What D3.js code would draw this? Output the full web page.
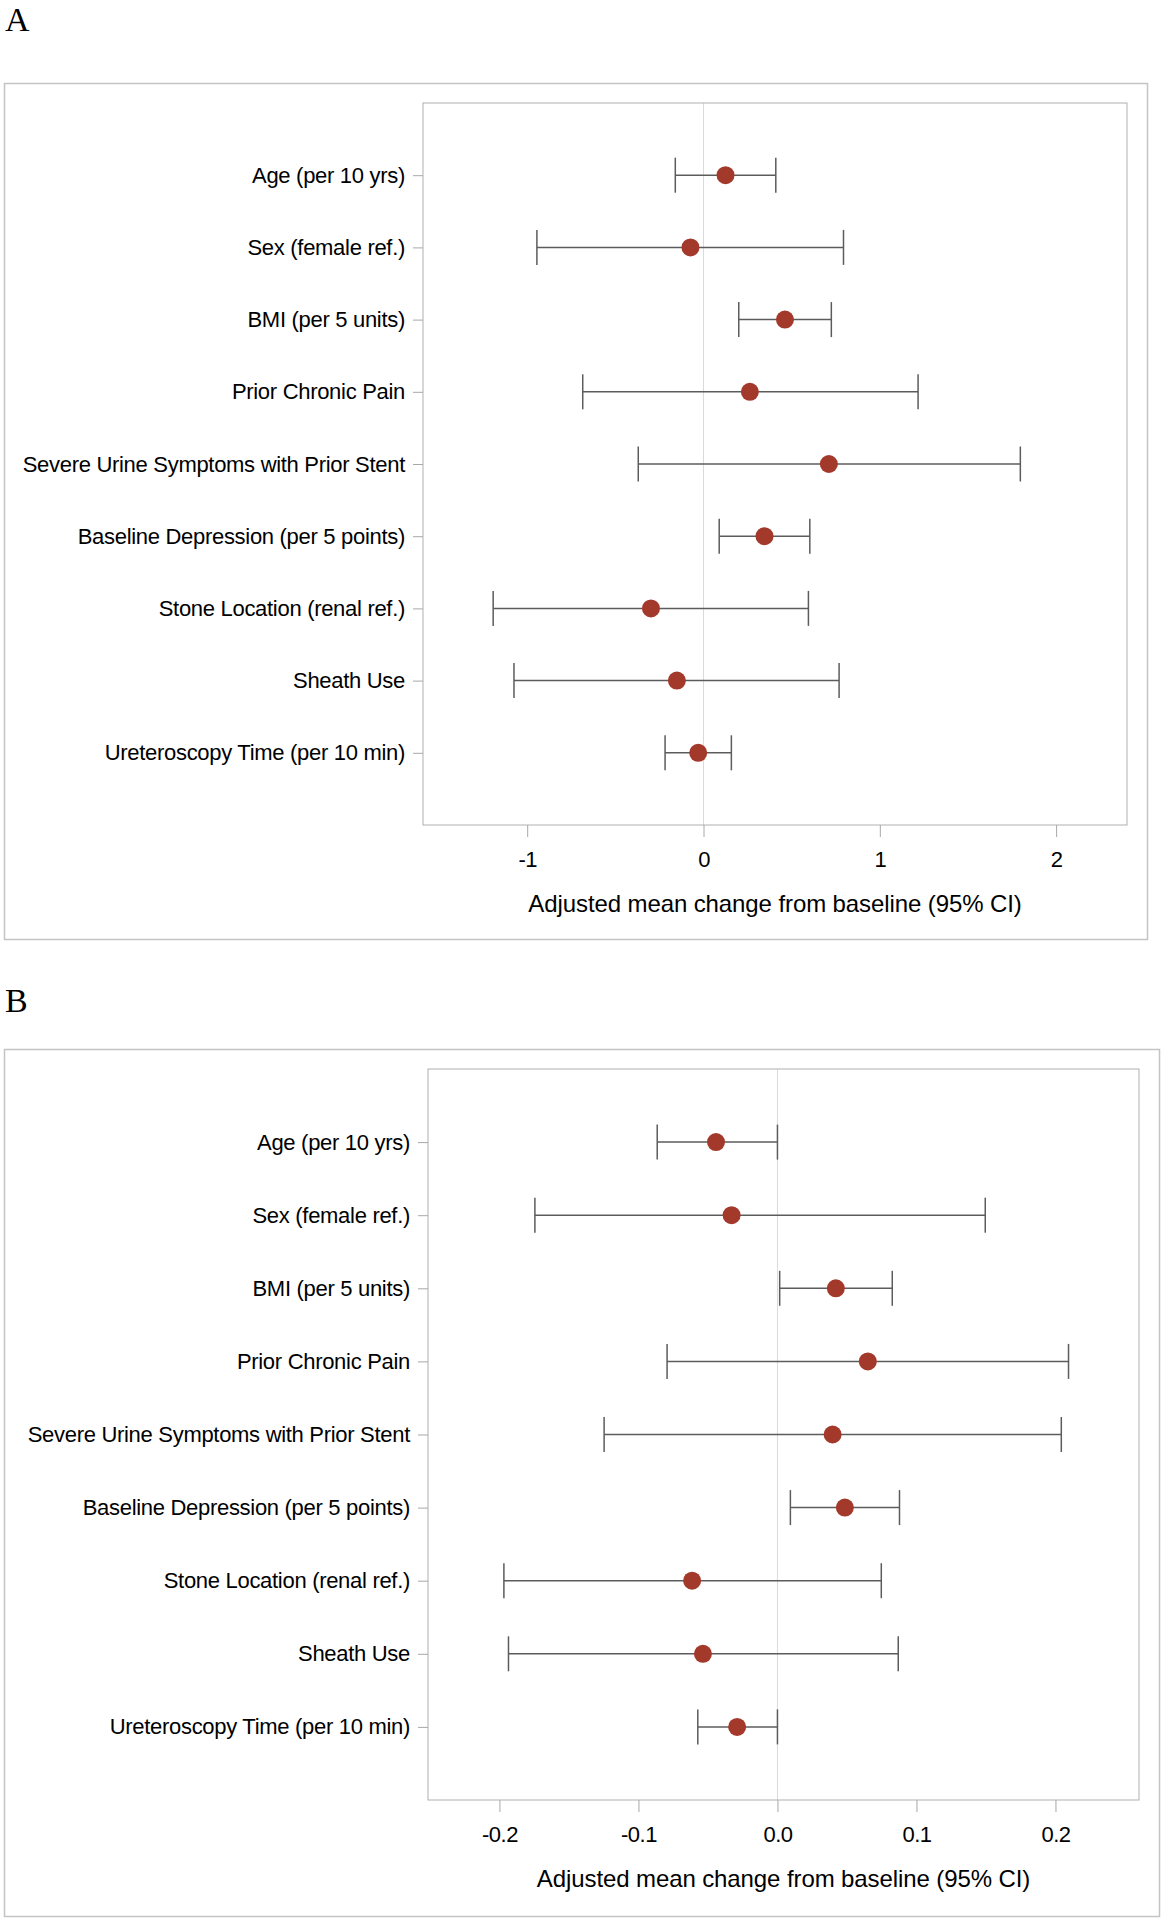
<!DOCTYPE html>
<html>
<head>
<meta charset="utf-8">
<script src="https://cdn.jsdelivr.net/npm/d3@7"></script>
<style>
  html, body { margin: 0; padding: 0; background: #fff; }
  svg { display: block; }
</style>
</head>
<body>
<svg id="chart" width="1164" height="1920"></svg>
<script>
// ---------------- DATA ----------------
const categories = [
  "Age (per 10 yrs)",
  "Sex (female ref.)",
  "BMI (per 5 units)",
  "Prior Chronic Pain",
  "Severe Urine Symptoms with Prior Stent",
  "Baseline Depression (per 5 points)",
  "Stone Location (renal ref.)",
  "Sheath Use",
  "Ureteroscopy Time (per 10 min)"
];

// Panel A
const estimateA = [0.125, -0.074, 0.462, 0.263, 0.711, 0.346, -0.298, -0.151, -0.030];
const lowerA    = [-0.160, -0.945, 0.200, -0.685, -0.370, 0.089, -1.193, -1.075, -0.218];
const upperA    = [0.410, 0.794, 0.725, 1.217, 1.797, 0.603, 0.595, 0.769, 0.158];
const ticksA      = [-1, 0, 1, 2];
const tickLabelsA = ["-1", "0", "1", "2"];

// Panel B
const estimateB = [-0.0442, -0.0330, 0.0420, 0.0650, 0.0397, 0.0485, -0.0614, -0.0536, -0.0290];
const lowerB    = [-0.0865, -0.1745, 0.0016, -0.0794, -0.1247, 0.0093, -0.1968, -0.1935, -0.0573];
const upperB    = [0.0000, 0.1495, 0.0826, 0.2094, 0.2042, 0.0878, 0.0747, 0.0869, 0.0000];
const ticksB      = [-0.2, -0.1, 0.0, 0.1, 0.2];
const tickLabelsB = ["-0.2", "-0.1", "0.0", "0.1", "0.2"];

const panelLetters = ["A", "B"];
const xAxisTitle = "Adjusted mean change from baseline (95% CI)";

// ---------------- LAYOUT ----------------
const panels = [
  {
    letter: panelLetters[0], letterY: 31,
    outer: { x0: 4, y0: 83, x1: 1147, y1: 939 },
    plot:  { x0: 423, y0: 103, x1: 1127, y1: 825 },
    domain: [-1.591, 2.402],
    est: estimateA, lo: lowerA, hi: upperA,
    ticks: ticksA, tickLabels: tickLabelsA
  },
  {
    letter: panelLetters[1], letterY: 1012,
    outer: { x0: 4, y0: 1049, x1: 1159, y1: 1916 },
    plot:  { x0: 428, y0: 1069, x1: 1139, y1: 1800 },
    domain: [-0.2514, 0.2601],
    est: estimateB, lo: lowerB, hi: upperB,
    ticks: ticksB, tickLabels: tickLabelsB
  }
];

const svg = d3.select("#chart");
const FONT = "'Liberation Sans', Arial, Helvetica, sans-serif";
const MARKER = "#a3392b";
const BAR = "#5c5c5c";

panels.forEach(p => {
  const g = svg.append("g");

  // panel letter
  g.append("text")
    .attr("x", 5).attr("y", p.letterY)
    .attr("font-family", "'Liberation Serif', 'Times New Roman', serif")
    .attr("font-size", 34)
    .attr("fill", "#000")
    .text(p.letter);

  // outer box
  g.append("rect")
    .attr("x", p.outer.x0 + 0.5).attr("y", p.outer.y0 + 0.5)
    .attr("width", p.outer.x1 - p.outer.x0).attr("height", p.outer.y1 - p.outer.y0)
    .attr("fill", "none").attr("stroke", "#c4c4c4").attr("stroke-width", 1.5);

  const x = d3.scaleLinear().domain(p.domain).range([p.plot.x0, p.plot.x1]);
  const y = d3.scalePoint().domain(categories).range([p.plot.y0, p.plot.y1]).padding(1);

  // zero reference line
  g.append("line")
    .attr("x1", x(0)).attr("x2", x(0))
    .attr("y1", p.plot.y0).attr("y2", p.plot.y1)
    .attr("stroke", "#dadada").attr("stroke-width", 1);

  // plot frame
  g.append("rect")
    .attr("x", p.plot.x0).attr("y", p.plot.y0)
    .attr("width", p.plot.x1 - p.plot.x0).attr("height", p.plot.y1 - p.plot.y0)
    .attr("fill", "none").attr("stroke", "#b0b0b0").attr("stroke-width", 1);

  // y axis
  const yAxis = g.append("g")
    .attr("transform", `translate(${p.plot.x0},0)`)
    .call(d3.axisLeft(y).tickSize(10).tickPadding(8));
  yAxis.select(".domain").remove();
  yAxis.selectAll(".tick line").attr("stroke", "#a8a8a8");
  yAxis.selectAll(".tick text")
    .attr("font-family", FONT).attr("font-size", 22)
    .attr("letter-spacing", "-0.3px")
    .attr("fill", "#000");

  // x axis
  const xAxis = g.append("g")
    .attr("transform", `translate(0,${p.plot.y1})`)
    .call(d3.axisBottom(x).tickValues(p.ticks)
      .tickFormat((d, i) => p.tickLabels[i])
      .tickSize(12).tickPadding(14));
  xAxis.select(".domain").remove();
  xAxis.selectAll(".tick line").attr("stroke", "#a8a8a8");
  xAxis.selectAll(".tick text")
    .attr("font-family", FONT).attr("font-size", 22)
    .attr("letter-spacing", "-0.5px")
    .attr("fill", "#000");

  // x axis title
  g.append("text")
    .attr("x", (p.plot.x0 + p.plot.x1) / 2)
    .attr("y", p.plot.y1 + 87)
    .attr("text-anchor", "middle")
    .attr("font-family", FONT).attr("font-size", 24)
    .attr("letter-spacing", "-0.1px")
    .attr("fill", "#000")
    .text(xAxisTitle);

  // error bars
  const rows = categories.map((c, i) => ({ c, est: p.est[i], lo: p.lo[i], hi: p.hi[i] }));
  const eb = g.append("g").attr("stroke", BAR).attr("stroke-width", 1.5);
  eb.selectAll("line.h").data(rows).join("line").attr("class", "h")
    .attr("x1", d => x(d.lo)).attr("x2", d => x(d.hi))
    .attr("y1", d => y(d.c)).attr("y2", d => y(d.c));
  eb.selectAll("line.capl").data(rows).join("line").attr("class", "capl")
    .attr("x1", d => x(d.lo)).attr("x2", d => x(d.lo))
    .attr("y1", d => y(d.c) - 17.5).attr("y2", d => y(d.c) + 17.5);
  eb.selectAll("line.caph").data(rows).join("line").attr("class", "caph")
    .attr("x1", d => x(d.hi)).attr("x2", d => x(d.hi))
    .attr("y1", d => y(d.c) - 17.5).attr("y2", d => y(d.c) + 17.5);

  // point estimates
  g.append("g").selectAll("circle").data(rows).join("circle")
    .attr("cx", d => x(d.est)).attr("cy", d => y(d.c))
    .attr("r", 9).attr("fill", MARKER);
});
</script>
</body>
</html>
